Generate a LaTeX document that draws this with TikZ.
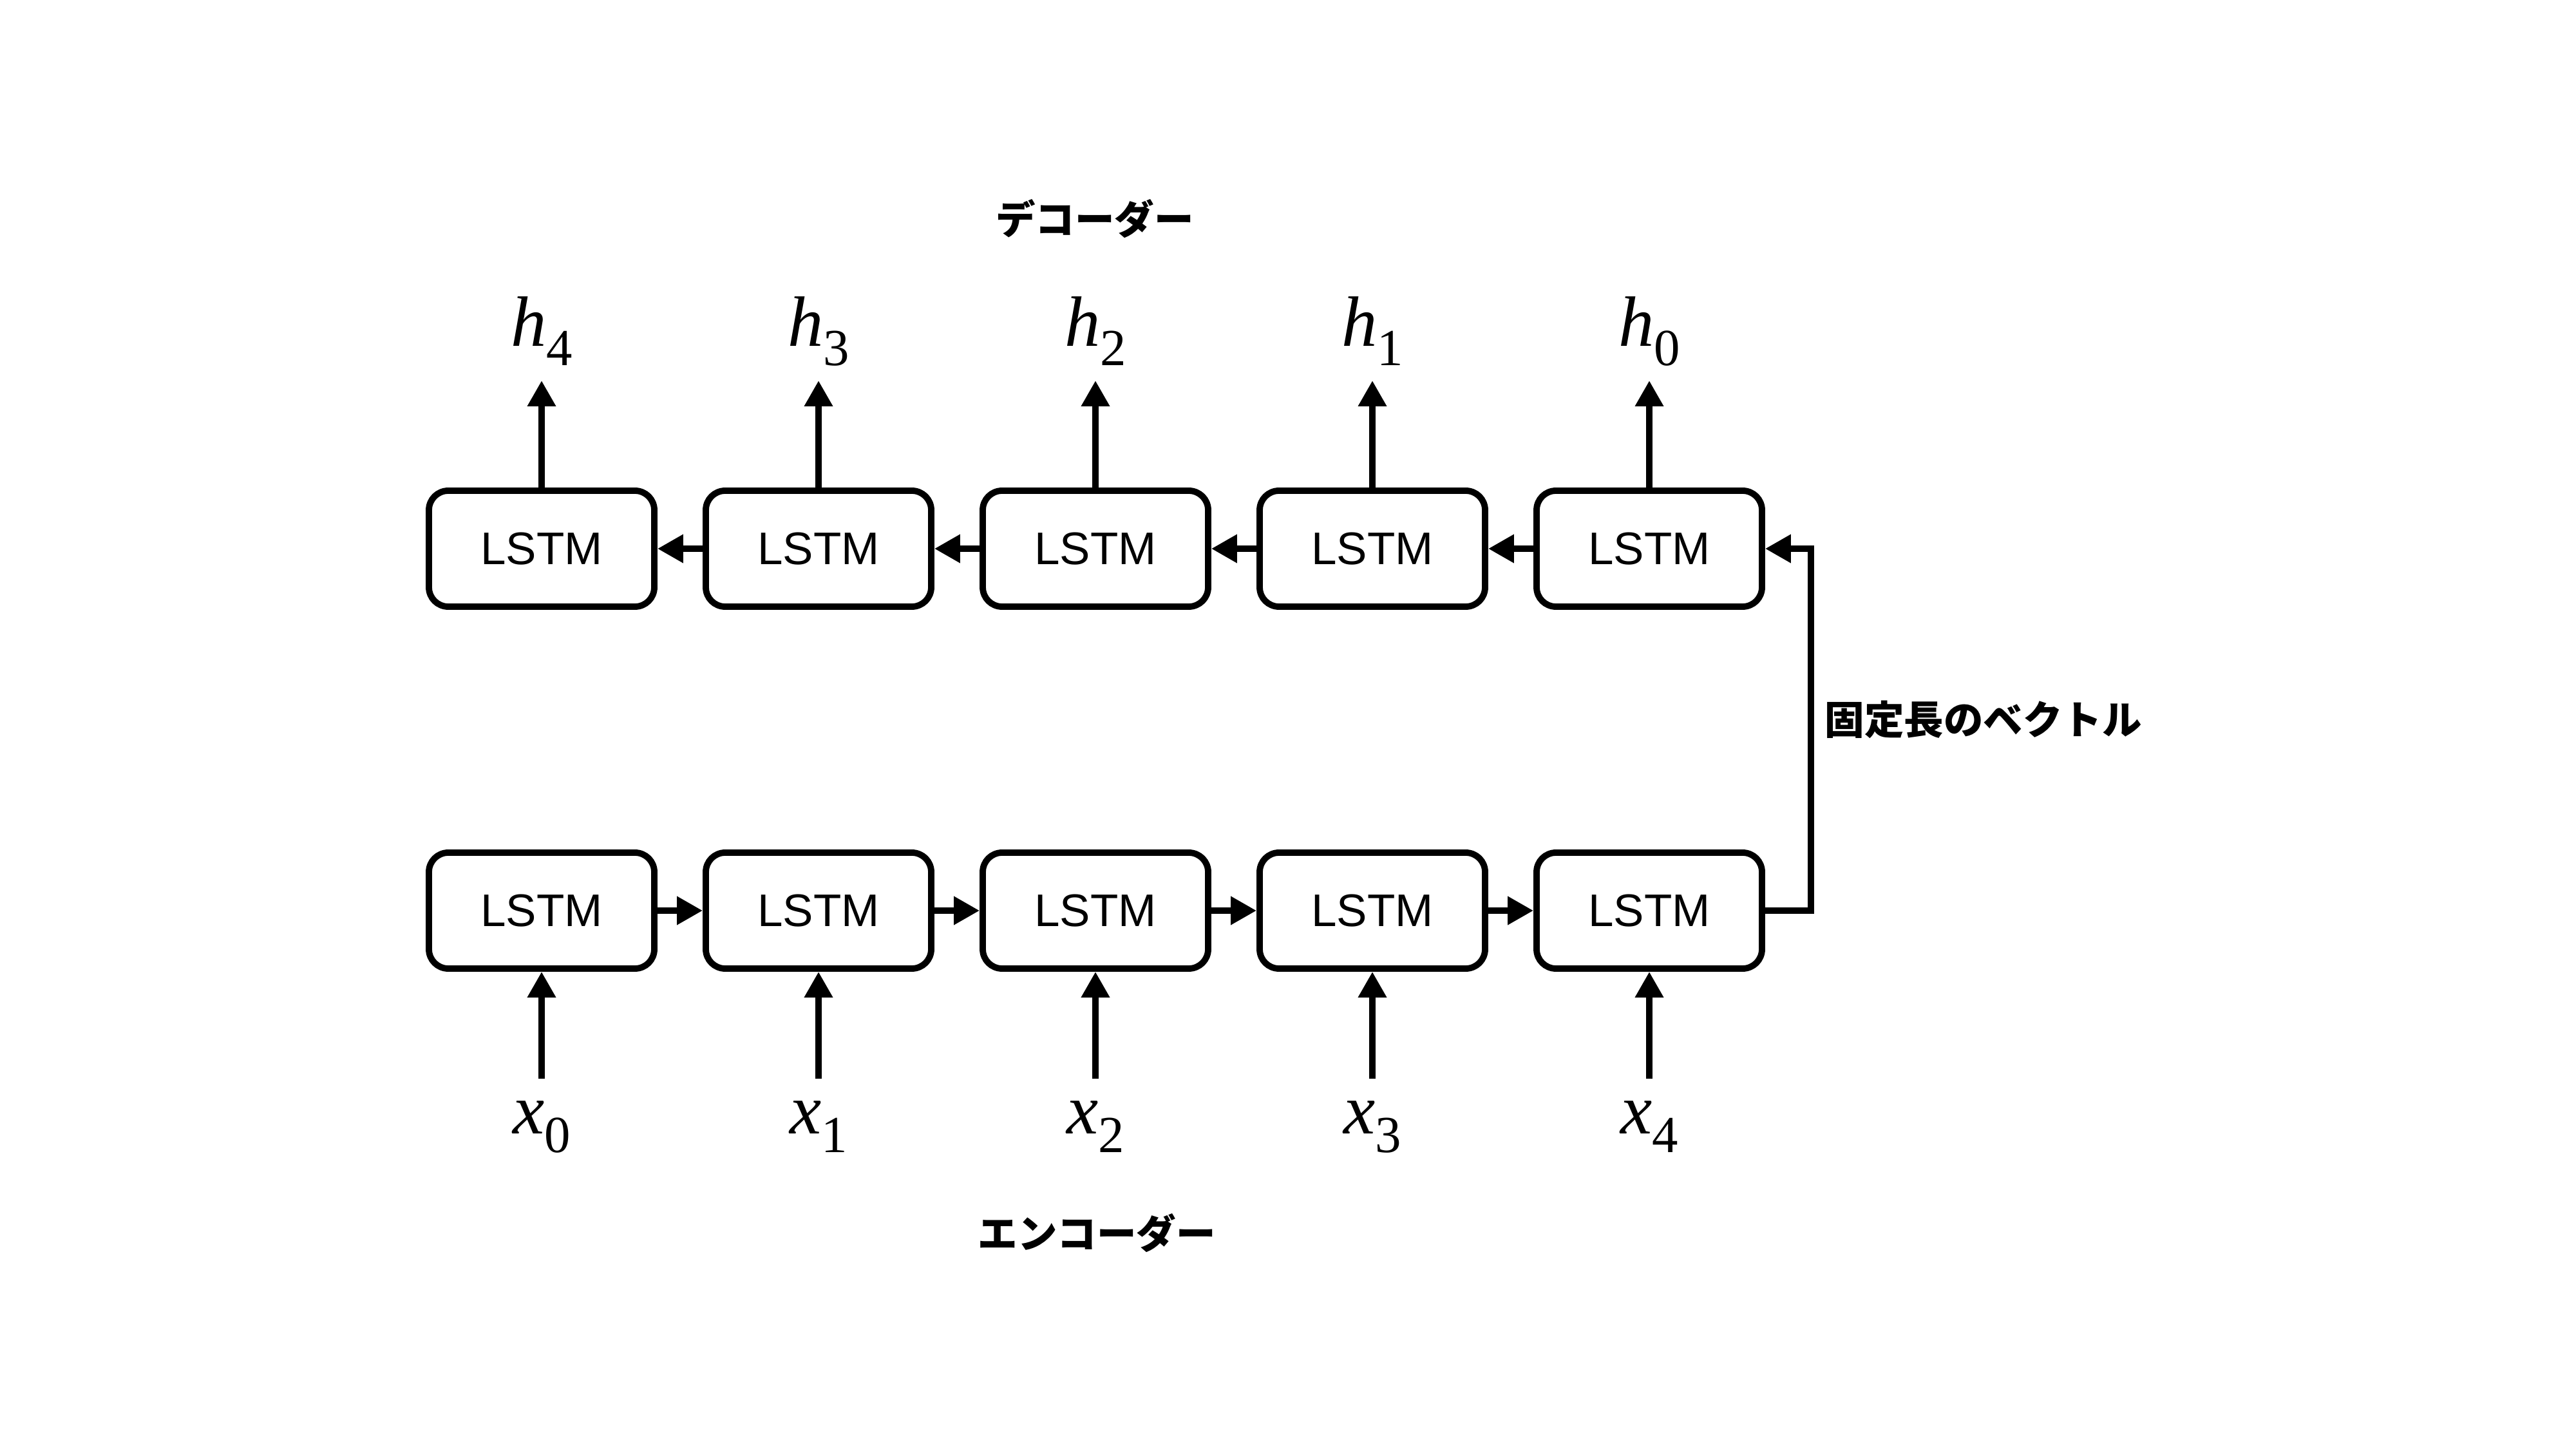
\documentclass[tikz,border=0pt]{standalone}
\usepackage{fontspec}
\setsansfont{Liberation Sans}
\newfontfamily\jpfont{Noto Sans CJK JP}
\newfontfamily\symfont{Liberation Serif}
\usetikzlibrary{arrows.meta}
\newcommand{\vsym}[2]{{\symfont\fontsize{31.5}{36}\selectfont\textit{#1}\raisebox{-8.3pt}{\fontsize{23}{26}\selectfont #2}}}
\tikzset{
    cell/.style={draw, line width=2.8pt, rounded corners=3mm, minimum width=3.5cm, minimum height=1.8cm, inner sep=0pt, font=\sffamily\fontsize{20.2}{23}\selectfont},
    flow/.style={-{Triangle[length=4mm,width=4.2mm]}, line width=2.8pt},
    vec/.style={anchor=base, inner sep=0pt},
    caption/.style={font=\jpfont\bfseries\fontsize{17.5}{20}\selectfont, inner sep=0pt}
}

\begin{document}
\begin{tikzpicture}
    \useasboundingbox (0,0) rectangle (40,-22.5);
    % decoder row
    \node[cell] (d4) at (8.41,-8.52) {LSTM};
    \node[cell] (d3) at (12.71,-8.52) {LSTM};
    \node[cell] (d2) at (17.01,-8.52) {LSTM};
    \node[cell] (d1) at (21.31,-8.52) {LSTM};
    \node[cell] (d0) at (25.61,-8.52) {LSTM};
    % encoder row
    \node[cell] (e0) at (8.41,-14.14) {LSTM};
    \node[cell] (e1) at (12.71,-14.14) {LSTM};
    \node[cell] (e2) at (17.01,-14.14) {LSTM};
    \node[cell] (e3) at (21.31,-14.14) {LSTM};
    \node[cell] (e4) at (25.61,-14.14) {LSTM};
    % outputs
    \node[vec] (h4) at (8.41,-5.38) {\vsym{h}{4}};
    \node[vec] (h3) at (12.71,-5.38) {\vsym{h}{3}};
    \node[vec] (h2) at (17.01,-5.38) {\vsym{h}{2}};
    \node[vec] (h1) at (21.31,-5.38) {\vsym{h}{1}};
    \node[vec] (h0) at (25.61,-5.38) {\vsym{h}{0}};
    \coordinate (ht4) at (8.41,-5.91);
    \coordinate (ht3) at (12.71,-5.91);
    \coordinate (ht2) at (17.01,-5.91);
    \coordinate (ht1) at (21.31,-5.91);
    \coordinate (ht0) at (25.61,-5.91);
    % inputs
    \node[vec] (x0) at (8.41,-17.60) {\vsym{x}{0}};
    \node[vec] (x1) at (12.71,-17.60) {\vsym{x}{1}};
    \node[vec] (x2) at (17.01,-17.60) {\vsym{x}{2}};
    \node[vec] (x3) at (21.31,-17.60) {\vsym{x}{3}};
    \node[vec] (x4) at (25.61,-17.60) {\vsym{x}{4}};
    \coordinate (xb0) at (8.41,-16.75);
    \coordinate (xb1) at (12.71,-16.75);
    \coordinate (xb2) at (17.01,-16.75);
    \coordinate (xb3) at (21.31,-16.75);
    \coordinate (xb4) at (25.61,-16.75);
    % captions
    \node[caption] (dec) at (17.00,-3.40) {デコーダー};
    \node[caption] (enc) at (17.03,-19.15) {エンコーダー};
    \coordinate (turn) at (28.12,-14.14);
    \node[caption, anchor=west] (fixed) at (28.33,-11.17) {固定長のベクトル};
    % arrows
    \draw[flow] (d4)--(ht4);
    \draw[flow] (d3)--(ht3);
    \draw[flow] (d2)--(ht2);
    \draw[flow] (d1)--(ht1);
    \draw[flow] (d0)--(ht0);
    \draw[flow] (xb0)--(e0);
    \draw[flow] (xb1)--(e1);
    \draw[flow] (xb2)--(e2);
    \draw[flow] (xb3)--(e3);
    \draw[flow] (xb4)--(e4);
    \draw[flow] (e0)--(e1);
    \draw[flow] (e1)--(e2);
    \draw[flow] (e2)--(e3);
    \draw[flow] (e3)--(e4);
    \draw[flow] (d0)--(d1);
    \draw[flow] (d1)--(d2);
    \draw[flow] (d2)--(d3);
    \draw[flow] (d3)--(d4);
    \draw[flow] (e4.east)--(turn) |- (d0.east);
\end{tikzpicture}
\end{document}
